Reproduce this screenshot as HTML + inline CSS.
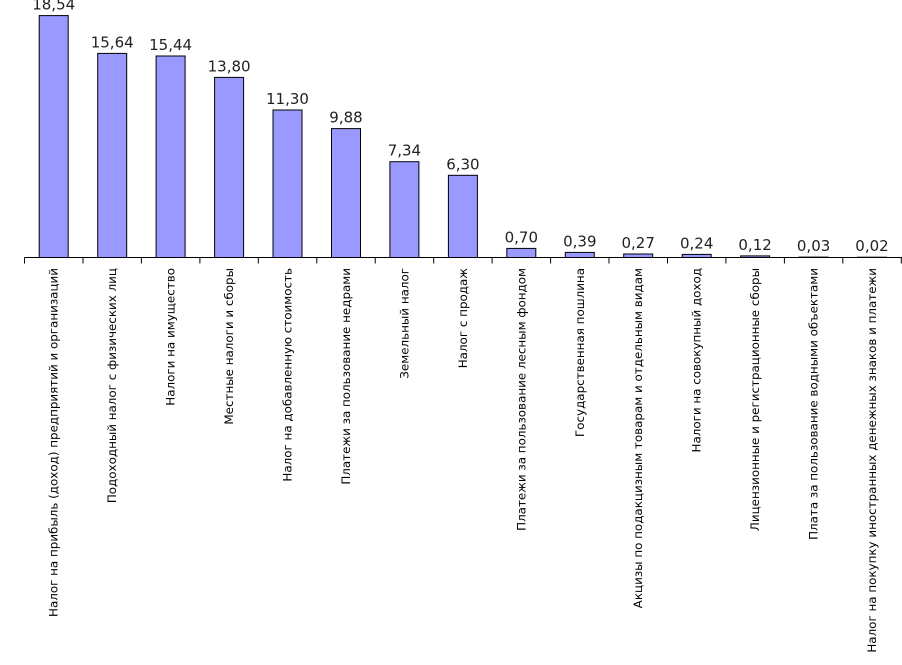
<!DOCTYPE html>
<html><head><meta charset="utf-8"><style>html,body{margin:0;padding:0;background:#fff}</style></head>
<body>
<svg width="902" height="660" xmlns="http://www.w3.org/2000/svg" font-family="DejaVu Sans, sans-serif">
<g fill="#9999ff" stroke="#000" stroke-width="1">
<rect x="39.2" y="15.6" width="29" height="241.9"/>
<rect x="97.7" y="53.4" width="29" height="204.1"/>
<rect x="156.1" y="56.0" width="29" height="201.5"/>
<rect x="214.6" y="77.4" width="29" height="180.1"/>
<rect x="273.0" y="110.0" width="29" height="147.5"/>
<rect x="331.5" y="128.6" width="29" height="128.9"/>
<rect x="389.9" y="161.7" width="29" height="95.8"/>
<rect x="448.4" y="175.3" width="29" height="82.2"/>
<rect x="506.8" y="248.4" width="29" height="9.1"/>
<rect x="565.3" y="252.4" width="29" height="5.1"/>
<rect x="623.7" y="254.0" width="29" height="3.5"/>
<rect x="682.2" y="254.4" width="29" height="3.1"/>
<rect x="740.6" y="255.9" width="29" height="1.6"/>
<rect x="799.1" y="257.1" width="29" height="0.4"/>
<rect x="857.5" y="257.2" width="29" height="0.3"/>
</g>
<g font-size="15" text-anchor="middle" fill="#222">
<text x="53.7" y="9.6">18,54</text>
<text x="112.2" y="47.4">15,64</text>
<text x="170.6" y="50.0">15,44</text>
<text x="229.1" y="71.4">13,80</text>
<text x="287.5" y="104.0">11,30</text>
<text x="346.0" y="122.6">9,88</text>
<text x="404.4" y="155.7">7,34</text>
<text x="462.9" y="169.3">6,30</text>
<text x="521.3" y="242.4">0,70</text>
<text x="579.8" y="246.4">0,39</text>
<text x="638.2" y="248.0">0,27</text>
<text x="696.7" y="248.4">0,24</text>
<text x="755.1" y="249.9">0,12</text>
<text x="813.6" y="251.1">0,03</text>
<text x="872.0" y="251.2">0,02</text>
</g>
<g font-size="11.9" text-anchor="end" fill="#000">
<text transform="translate(57.7,268) rotate(-90)">Налог на прибыль (доход) предприятий и организаций</text>
<text transform="translate(116.2,268) rotate(-90)">Подоходный налог с физических лиц</text>
<text transform="translate(174.6,268) rotate(-90)">Налоги на имущество</text>
<text transform="translate(233.1,268) rotate(-90)">Местные налоги и сборы</text>
<text transform="translate(291.5,268) rotate(-90)">Налог на добавленную стоимость</text>
<text transform="translate(350.0,268) rotate(-90)">Платежи за пользование недрами</text>
<text transform="translate(408.4,268) rotate(-90)">Земельный налог</text>
<text transform="translate(466.9,268) rotate(-90)">Налог с продаж</text>
<text transform="translate(525.3,268) rotate(-90)">Платежи за пользование лесным фондом</text>
<text transform="translate(583.8,268) rotate(-90)">Государственная пошлина</text>
<text transform="translate(642.2,268) rotate(-90)">Акцизы по подакцизным товарам и отдельным видам</text>
<text transform="translate(700.7,268) rotate(-90)">Налоги на совокупный доход</text>
<text transform="translate(759.1,268) rotate(-90)">Лицензионные и регистрационные сборы</text>
<text transform="translate(817.6,268) rotate(-90)">Плата за пользование водными объектами</text>
<text transform="translate(876.0,268) rotate(-90)">Налог на покупку иностранных денежных знаков и платежи</text>
</g>
<g stroke="#000" stroke-width="1">
<line x1="24.5" y1="257.5" x2="902" y2="257.5"/>
<line x1="24.5" y1="257.5" x2="24.5" y2="263.5"/>
<line x1="83.0" y1="257.5" x2="83.0" y2="263.5"/>
<line x1="141.4" y1="257.5" x2="141.4" y2="263.5"/>
<line x1="199.9" y1="257.5" x2="199.9" y2="263.5"/>
<line x1="258.3" y1="257.5" x2="258.3" y2="263.5"/>
<line x1="316.8" y1="257.5" x2="316.8" y2="263.5"/>
<line x1="375.2" y1="257.5" x2="375.2" y2="263.5"/>
<line x1="433.7" y1="257.5" x2="433.7" y2="263.5"/>
<line x1="492.1" y1="257.5" x2="492.1" y2="263.5"/>
<line x1="550.6" y1="257.5" x2="550.6" y2="263.5"/>
<line x1="609.0" y1="257.5" x2="609.0" y2="263.5"/>
<line x1="667.5" y1="257.5" x2="667.5" y2="263.5"/>
<line x1="725.9" y1="257.5" x2="725.9" y2="263.5"/>
<line x1="784.4" y1="257.5" x2="784.4" y2="263.5"/>
<line x1="842.8" y1="257.5" x2="842.8" y2="263.5"/>
<line x1="901.3" y1="257.5" x2="901.3" y2="263.5"/>
</g>
</svg>
</body></html>
